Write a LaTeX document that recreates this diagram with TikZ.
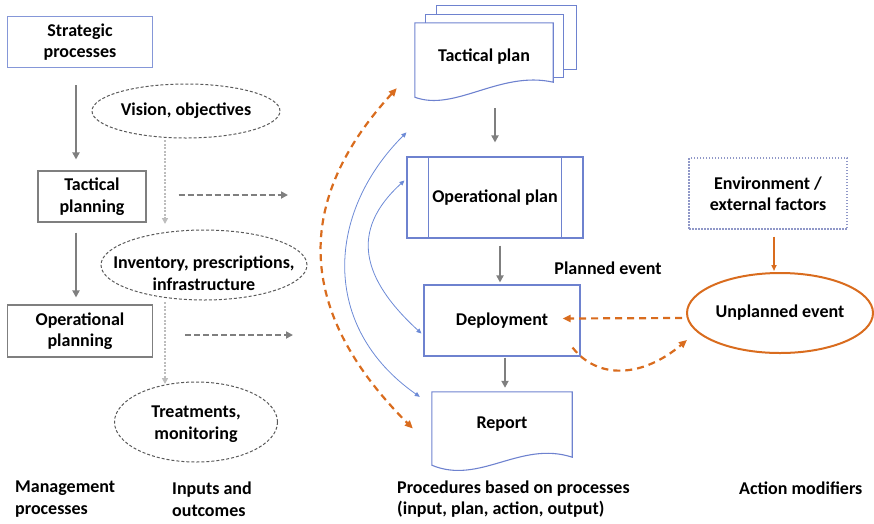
\documentclass[tikz,border=0pt]{standalone}
\usepackage{fontspec}
\setmainfont{Carlito}
\usetikzlibrary{positioning,arrows.meta,calc,shapes.geometric}
\definecolor{procBlue}{HTML}{8597D8}
\definecolor{docBlue}{HTML}{6E82CF}
\definecolor{arcBlue}{HTML}{6C8AD6}
\definecolor{envGray}{HTML}{9098C8}
\definecolor{flowGray}{HTML}{7F7F7F}
\definecolor{hintGray}{HTML}{BDBDBD}
\definecolor{ovalGray}{HTML}{595959}
\definecolor{eventOrange}{HTML}{D96C1E}

\begin{document}
\begin{tikzpicture}[
    x=1pt, y=-1pt,
    font=\fontsize{18}{21.5}\selectfont\bfseries,
    proc/.style={draw=#1, line width=1.1pt, align=center, inner sep=2pt},
    caption/.style={align=center, inner sep=0pt},
    oval/.style={draw=ovalGray, line width=1pt, dash pattern=on 3pt off 2pt},
    flow/.style={draw=flowGray, line width=2.3pt, -{Triangle[length=7pt, width=7pt]}},
    feed/.style={flow, dash pattern=on 6pt off 3pt},
    hint/.style={draw=hintGray, line width=2pt, dash pattern=on 2pt off 1.5pt, -{Triangle[length=6pt, width=6pt]}},
    sheet/.style={draw=docBlue, line width=1.1pt},
    backlink/.style={draw=arcBlue, line width=0.8pt, {Triangle[length=5pt, width=4.5pt]}-{Triangle[length=5pt, width=4.5pt]}},
    disrupt/.style={draw=eventOrange, line width=2.2pt, dash pattern=on 7pt off 5pt, -{Triangle[length=8pt, width=7pt]}},
  ]
  \useasboundingbox (0,0) rectangle (874,523);

  % management processes
  \node[proc=procBlue, minimum width=145pt, minimum height=51pt] (strat) at (80,42) {Strategic\\processes};
  \node[proc=flowGray, minimum width=108pt, minimum height=51pt] (tacplan) at (92,196.5) {Tactical\\planning};
  \node[proc=flowGray, minimum width=145pt, minimum height=52pt] (opplan) at (80,331) {Operational\\planning};

  \draw[flow, shorten <=17pt, shorten >=11pt] ([xshift=-4pt]strat.south) -- ([xshift=-4pt]strat.south |- tacplan.north);
  \draw[flow, shorten <=10pt, shorten >=7pt] ([xshift=-4pt]opplan.north |- tacplan.south) -- ([xshift=-4pt]opplan.north);

  % inputs and outcomes
  \node[caption] (vision) at (186,111) {Vision, objectives};
  \node[caption] (inventory) at (204,273) {Inventory, prescriptions,\\infrastructure};
  \node[caption] (treat) at (196,424) {Treatments,\\monitoring};
  \draw[oval] (vision.center) ellipse [x radius=94pt, y radius=27pt];
  \draw[oval] ([yshift=8pt]inventory.center) ellipse [x radius=103pt, y radius=35pt];
  \draw[oval] ([yshift=2pt]treat.center) ellipse [x radius=81.5pt, y radius=40pt];

  \draw[hint] ($(vision.center)+(-21,29)$) -- ($(inventory.center)+(-39,-49)$);
  \draw[hint] ($(inventory.center)+(-39,29)$) -- ($(treat.center)+(-31,-40)$);

  \coordinate (tacout) at (288,195);
  \coordinate (opout) at (293,335);
  \draw[feed] ($(tacplan.east)+(32,-1.5)$) -- (tacout);
  \draw[feed] ($(opplan.east)+(32,4)$) -- (opout);

  % procedures
  \node[minimum width=138pt, minimum height=68pt] (tplan) at (484,57) {Tactical plan};
  \draw[sheet] ($(tplan.north west)+(22,-8)$) -- ++(0,-9) -- ($(tplan.north east)+(23,-17)$) -- ++(0,64) -- ++(-13,0);
  \draw[sheet] ($(tplan.north west)+(11,0)$) -- ++(0,-8) -- ($(tplan.north east)+(10,-8)$) -- ++(0,63) -- ++(-10,0);
  \draw[sheet] (tplan.north west) -- (tplan.north east) -- ($(tplan.south east)+(0,-9)$)
    .. controls +(-53,-12) and +(40,15) .. ($(tplan.south west)+(0,6)$) -- cycle;

  \node[proc=docBlue, minimum width=176pt, minimum height=81pt] (oplan) at (495,197.5) {Operational plan};
  \draw[sheet] ([xshift=22pt]oplan.north west) -- ([xshift=22pt]oplan.south west);
  \draw[sheet] ([xshift=-22pt]oplan.north east) -- ([xshift=-22pt]oplan.south east);

  \node[proc=docBlue, minimum width=156pt, minimum height=71pt] (deploy) at (502,320.5) {Deployment};

  \node[minimum width=140pt, minimum height=65pt] (report) at (502,424.5) {Report};
  \draw[sheet] (report.north west) -- (report.north east) -- (report.south east)
    .. controls +(-52,-17) and +(48,20) .. ($(report.south west)+(0,8)$) -- cycle;

  \draw[flow, shorten <=17pt, shorten >=14pt] (oplan.north |- tplan.south) -- (oplan.north);
  \draw[flow, shorten <=7pt, shorten >=2pt] ([xshift=5pt]oplan.south) -- ([xshift=5pt]oplan.south |- deploy.north);
  \draw[flow, shorten <=1pt, shorten >=4pt] ([xshift=3pt]deploy.south) -- ([xshift=3pt]deploy.south |- report.north);

  \draw[backlink] ($(oplan.north west)+(0,-24)$) .. controls +(-80,80) and +(-100,-70) .. ($(report.north west)+(-12,5)$);
  \draw[backlink] ($(oplan.west)+(-2,-17)$) .. controls +(-55,50) and +(-60,-55) .. ($(deploy.west)+(-2,13)$);
  \draw[disrupt, {Triangle[length=8pt, width=7pt]}-{Triangle[length=8pt, width=7pt]}] ($(tplan.south west)+(-18,-3)$)
    .. controls +(-110,120) and +(-110,-110) .. ($(report.west)+(-19,4)$);

  % action modifiers
  \node[caption] (planned) at (608,268) {Planned event};
  \node[proc=envGray, dash pattern=on 1.5pt off 1.5pt, minimum width=158pt, minimum height=71pt] (env) at (768,193.5) {Environment /\\external factors};
  \node[ellipse, draw=eventOrange, line width=2pt, minimum width=186pt, minimum height=80pt, inner sep=0pt] (unplanned) at (780,313) {Unplanned event};

  \draw[draw=eventOrange, line width=1.8pt, -{Triangle[length=6pt, width=5pt]}, shorten <=7pt, shorten >=1pt] ([xshift=6pt]env.south) -- ([xshift=6pt]env.south |- unplanned.north);
  \draw[disrupt] ($(unplanned.west)+(-4,5)$) -- ($(deploy.east)+(-18,-2)$);
  \draw[disrupt] ($(deploy.south east)+(-8,-9)$) .. controls +(25,32) and +(-45,38) .. ($(unplanned.west)+(1,27)$);

  % column captions
  \node[caption, anchor=west, align=left] (mgmtcap) at (15,499) {Management\\processes};
  \node[caption, anchor=west, align=left] (inputcap) at (172,499) {Inputs and\\outcomes};
  \node[caption, anchor=west, align=left] (proccap) at (397,499) {Procedures based on processes\\(input, plan, action, output)};
  \node[caption, anchor=west, align=left] (modcap) at (739,488) {Action modifiers};
\end{tikzpicture}
\end{document}
